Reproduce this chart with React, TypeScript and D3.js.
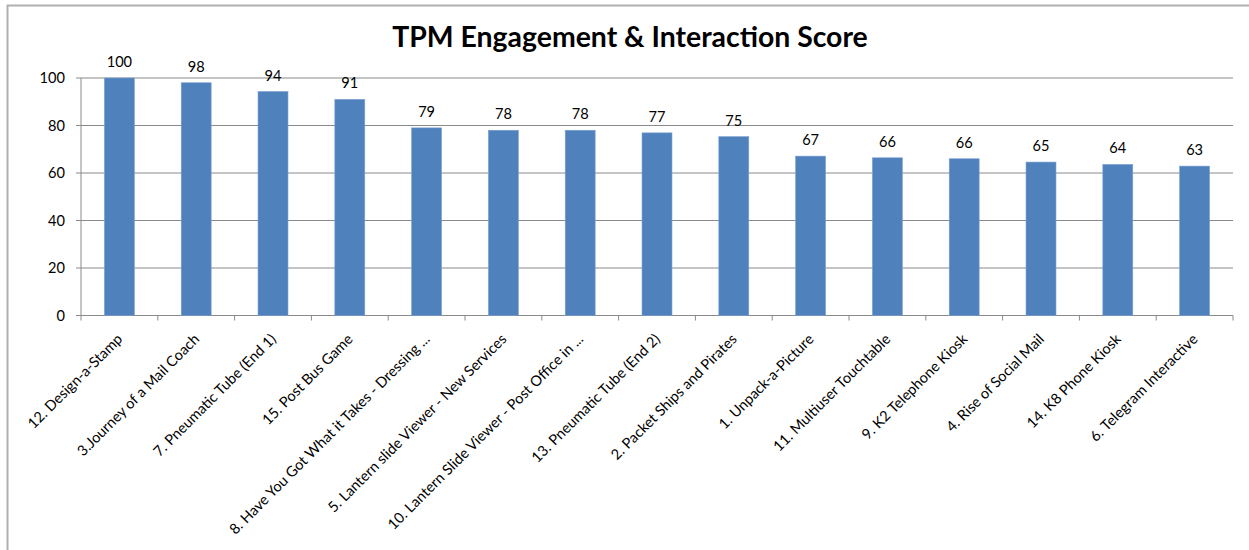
import * as d3 from "d3";

const categories = [
  "12. Design-a-Stamp",
  "3.Journey of a Mail Coach",
  "7. Pneumatic Tube (End 1)",
  "15. Post Bus Game",
  "8. Have You Got What it Takes - Dressing ...",
  "5. Lantern slide Viewer - New Services",
  "10. Lantern Slide Viewer - Post Office in ...",
  "13. Pneumatic Tube (End 2)",
  "2. Packet Ships and Pirates",
  "1. Unpack-a-Picture",
  "11. Multiuser Touchtable",
  "9. K2 Telephone Kiosk",
  "4. Rise of Social Mail",
  "14. K8 Phone Kiosk",
  "6. Telegram Interactive",
];
const scores = [100, 98, 94.3, 91, 79, 78, 78, 76.9, 75.3, 67.1, 66.4, 66, 64.6, 63.6, 62.9];
const yTicks = [0, 20, 40, 60, 80, 100];

const title = "TPM Engagement & Interaction Score";

const width = 1249;
const height = 550;
const plot = { left: 81, right: 1233, top: 78, bottom: 315.5 };
const font = "Lato, 'Open Sans', sans-serif";
const gridColor = "#8a8a8a";
const labelSize = 14.6;

export default function App() {
  const x = d3
    .scaleBand<string>()
    .domain(categories)
    .range([plot.left, plot.right])
    .paddingInner(0.61)
    .paddingOuter(0.305);
  const y = d3.scaleLinear().domain([0, 100]).range([plot.bottom, plot.top]);
  const step = x.step();
  const fmt = d3.format(".0f");

  return (
    <svg
      width={width}
      height={height}
      style={{ position: "absolute", left: 0, top: 0, background: "#fff" }}
      fontFamily={font}
    >
      {/* chart frame, cut off at right and bottom */}
      <rect x={7.5} y={5.5} width={1300} height={600} fill="#fff" stroke="#b0b0b0" strokeWidth={2} />

      <text x={630} y={47} textAnchor="middle" fontSize={28.4} fontWeight="bold" fill="#000">
        {title}
      </text>

      {/* gridlines and y ticks */}
      {yTicks.map((t) => (
        <g key={t}>
          <line x1={plot.left - 5} x2={plot.right} y1={y(t)} y2={y(t)} stroke={gridColor} strokeWidth={1} />
          <text x={65} y={y(t)} dy="0.35em" textAnchor="end" fontSize={labelSize} fill="#000">
            {t}
          </text>
        </g>
      ))}
      <line x1={plot.left} x2={plot.left} y1={plot.top} y2={plot.bottom} stroke={gridColor} />

      {/* x ticks at category boundaries */}
      {d3.range(categories.length + 1).map((i) => (
        <line
          key={i}
          x1={plot.left + i * step}
          x2={plot.left + i * step}
          y1={plot.bottom}
          y2={plot.bottom + 5}
          stroke={gridColor}
        />
      ))}

      {/* bars */}
      {categories.map((c, i) => (
        <rect
          key={c}
          x={x(c)}
          y={y(scores[i])}
          width={x.bandwidth()}
          height={y(0) - y(scores[i])}
          fill="#4f81bd"
          stroke="#7aa0cf"
          strokeWidth={0.6}
        />
      ))}

      {/* value labels */}
      {categories.map((c, i) => (
        <text
          key={c}
          x={(x(c) ?? 0) + x.bandwidth() / 2}
          y={y(scores[i]) - 11}
          textAnchor="middle"
          fontSize={labelSize}
          fill="#000"
        >
          {fmt(scores[i])}
        </text>
      ))}

      {/* category labels */}
      {categories.map((c) => {
        const cx = (x(c) ?? 0) + x.bandwidth() / 2;
        return (
          <text
            key={c}
            transform={`translate(${cx + 4},${340}) rotate(-45)`}
            textAnchor="end"
            fontSize={labelSize}
            fill="#000"
          >
            {c}
          </text>
        );
      })}
    </svg>
  );
}
